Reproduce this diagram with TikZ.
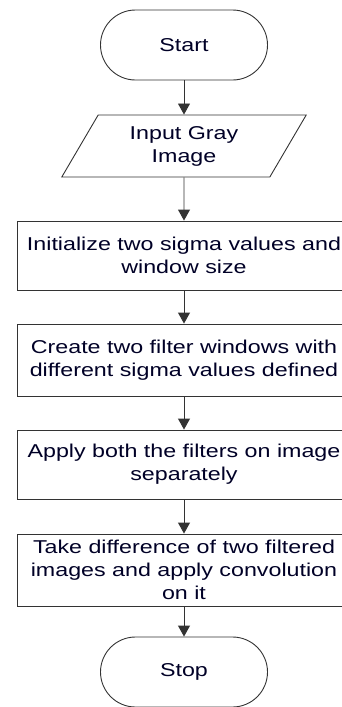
\documentclass[tikz,border=0pt]{standalone}
\usepackage{fontspec}
\setmainfont[FakeStretch=1.25]{Liberation Sans}
\usetikzlibrary{shapes.geometric,arrows.meta}
\begin{document}
\begin{tikzpicture}[x=1pt,y=-1pt,
  every node/.style={font=\fontsize{18.6}{23}\selectfont, text=black!85!blue, align=center, inner sep=0pt},
  lineclr/.style={draw=black!80, line width=0.9pt},
  term/.style={lineclr, rectangle, rounded corners=35pt, minimum width=167pt, minimum height=70pt},
  iobox/.style={lineclr, trapezium, trapezium left angle=60, trapezium right angle=120, trapezium stretches=true, minimum width=245pt, minimum height=62pt},
  procbox/.style={lineclr, rectangle, minimum width=334pt},
  flow/.style={lineclr, -{Triangle[width=12pt,length=11pt]}}
]
\useasboundingbox (0,0) rectangle (342,707);
\node[term] (start) at (184,45) {Start};
\node[iobox] (input) at (184,146) {Input Gray\\Image};
\node[procbox, minimum height=69pt] (init) at (184,255.5) {Initialize two sigma values and\\window size};
\node[procbox, minimum height=72pt] (create) at (184,360) {Create two filter windows with\\different sigma values defined};
\node[procbox, minimum height=69pt] (apply) at (184,464.5) {Apply both the filters on image\\separately};
\node[procbox, minimum height=72pt] (diff) at (184,570) {Take difference of two filtered\\images and apply convolution\\on it};
\node[term] (stop) at (184,672) {Stop};
\draw[flow] (start) -- (input);
\draw[flow] (input) -- (init);
\draw[flow] (init) -- (create);
\draw[flow] (create) -- (apply);
\draw[flow] (apply) -- (diff);
\draw[flow] (diff) -- (stop);
\end{tikzpicture}
\end{document}
